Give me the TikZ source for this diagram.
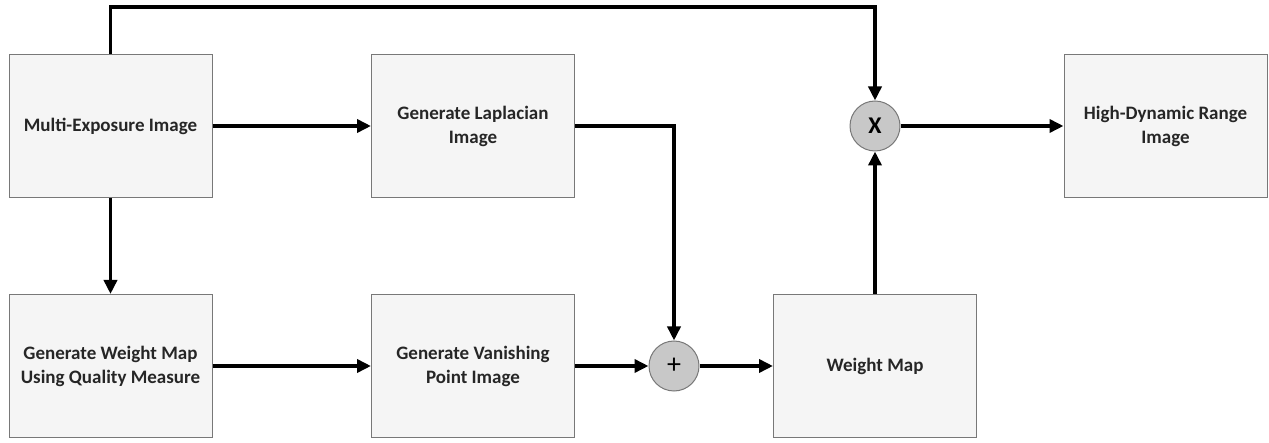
\documentclass[tikz,border=0pt]{standalone}
\usepackage{fontspec}
\setmainfont{Carlito}
\usetikzlibrary{arrows.meta}
\definecolor{boxfill}{RGB}{245,245,245}
\definecolor{boxline}{RGB}{120,120,120}
\definecolor{opfill}{RGB}{200,200,200}

\begin{document}
\begin{tikzpicture}[x=1pt, y=-1pt, >={Triangle[length=14pt,width=13pt]},
		font=\fontsize{19}{24}\selectfont\bfseries,
		block/.style={draw=boxline, fill=boxfill, line width=1pt, minimum width=203pt, minimum height=143pt, align=center, text=black!85, inner sep=2pt},
		op/.style={circle, draw=boxline, fill=opfill, line width=1pt, minimum size=50pt, inner sep=0pt},
		conn/.style={->, line width=3.5pt}]
		\useasboundingbox (0,0) rectangle (1269,443);
		% top row
		\node[block] (multi) at (110.5,126) {Multi-Exposure Image};
		\node[block] (lap) at (473,126) {Generate Laplacian\\Image};
		\node[op] (times) at (875,126) {\fontsize{24}{24}\selectfont X};
		\node[block] (hdr) at (1165.5,126) {High-Dynamic Range\\Image};
		% bottom row
		\node[block] (gwm) at (110.5,366) {Generate Weight Map\\Using Quality Measure};
		\node[block] (vp) at (473,366) {Generate Vanishing\\Point Image};
		\node[op] (plus) at (674,366) {\fontsize{28}{28}\selectfont\mdseries +};
		\node[block] (wm) at (875,366) {Weight Map};
		% connectors
		\draw[conn] (multi) -- (lap);
		\draw[conn] (multi) -- (gwm);
		\draw[conn] (gwm) -- (vp);
		\draw[conn] (vp) -- (plus);
		\draw[conn] (plus) -- (wm);
		\draw[conn] (lap.east) -| (plus.north);
		\draw[conn] (wm) -- (times);
		\draw[conn] (times) -- (hdr);
		\draw[conn] (multi.north) -- ++(0,-47) -| (times.north);
	\end{tikzpicture}
\end{document}
